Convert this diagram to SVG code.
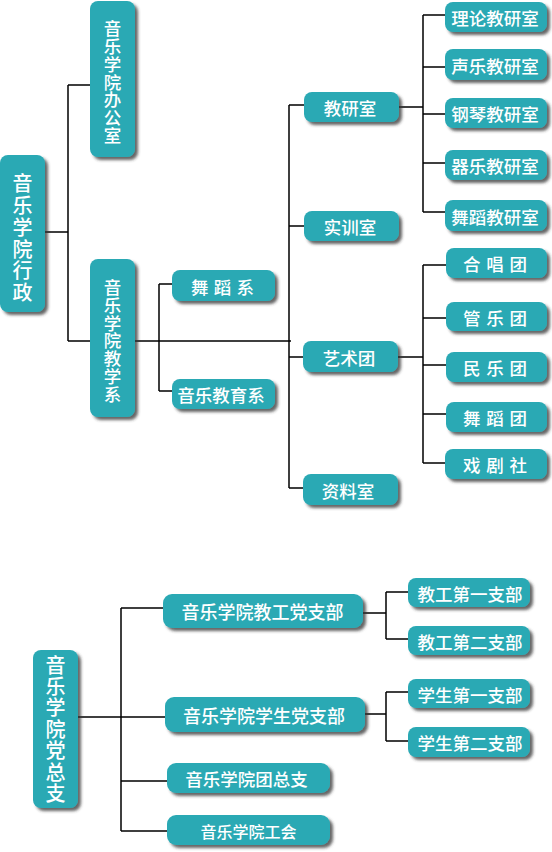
<svg xmlns="http://www.w3.org/2000/svg" width="552" height="852" viewBox="0 0 552 852">
<defs>
<filter id="sh" x="-20%" y="-20%" width="150%" height="160%">
<feDropShadow dx="3" dy="3" stdDeviation="1.4" flood-color="#333" flood-opacity="0.75"/>
</filter>
<style>
.b{fill:#2AA9B4;filter:url(#sh);}
.t{fill:#fff;font-family:"Noto Sans CJK SC","Noto Sans CJK TC",sans-serif;font-weight:500;font-size:17.5px;text-anchor:middle;dominant-baseline:central;}
.vt{writing-mode:vertical-rl;}
.c{fill:none;stroke:#000;stroke-width:1.5;}
</style>
</defs>
<rect width="552" height="852" fill="#fff"/>
<g id="connectors" class="c">
<path d="M45,232H68M68,85V341M68,85H90M68,341H90"/>
<path d="M135,341H291M159,284V391M159,284H172M159,391H172"/>
<path d="M289,105V488M289,105H304M289,226H304M289,357H303M289,488H303"/>
<path d="M399,107H423M423,15V212M423,15H445M423,67H445M423,114H445M423,163H445M423,212H445"/>
<path d="M398,357H423M423,265V463M423,265H446M423,318H446M423,365H446M423,414H446M423,463H445"/>
<path d="M78,717H121M121,608V831M121,608H163M121,717H165M121,781H167M121,831H167"/>
<path d="M363,613H386M386,592V639M386,592H408M386,639H408"/>
<path d="M365,714H386M386,692V741M386,692H408M386,741H408"/>
</g>
<g id="root"><rect class="b" x="0" y="155" width="45" height="157" rx="8"/>
<text class="t vt" x="22.5" y="239" style="font-size:20px;letter-spacing:1.7px">音乐学院行政</text></g>
<g id="office"><rect class="b" x="90" y="1" width="45" height="156" rx="8"/>
<text class="t vt" x="112.5" y="82" style="font-size:17.5px;letter-spacing:0.2px">音乐学院办公室</text></g>
<g id="teach"><rect class="b" x="90" y="259" width="45" height="158" rx="8"/>
<text class="t vt" x="112.5" y="341" style="font-size:17.5px;letter-spacing:0.4px">音乐学院教学系</text></g>
<g id="dance"><rect class="b" x="172" y="270" width="103" height="31" rx="8"/><text class="t" x="222.5" y="286" textLength="63" lengthAdjust="spacing">舞 蹈 系</text></g>
<g id="musicedu"><rect class="b" x="172" y="379" width="103" height="30" rx="8"/><text class="t" x="221" y="394.5">音乐教育系</text></g>
<g id="jiaoyan"><rect class="b" x="304" y="92" width="95" height="30" rx="8"/><text class="t" x="350" y="107">教研室</text></g>
<g id="shixun"><rect class="b" x="304" y="211" width="95" height="30" rx="8"/><text class="t" x="350" y="226">实训室</text></g>
<g id="yishu"><rect class="b" x="303" y="341" width="95" height="31" rx="8"/><text class="t" x="349" y="357">艺术团</text></g>
<g id="ziliao"><rect class="b" x="303" y="474" width="95" height="31" rx="8"/><text class="t" x="348" y="490">资料室</text></g>
<g id="lilun"><rect class="b" x="445" y="2" width="102" height="30" rx="8"/><text class="t" x="495" y="17.5">理论教研室</text></g>
<g id="shengyue"><rect class="b" x="445" y="49" width="102" height="31" rx="8"/><text class="t" x="495" y="65">声乐教研室</text></g>
<g id="gangqin"><rect class="b" x="445" y="98" width="102" height="30" rx="8"/><text class="t" x="495" y="113.5">钢琴教研室</text></g>
<g id="qiyue"><rect class="b" x="445" y="150" width="102" height="30" rx="8"/><text class="t" x="495" y="165.5">器乐教研室</text></g>
<g id="wudaojys"><rect class="b" x="445" y="200" width="102" height="31" rx="8"/><text class="t" x="495" y="216">舞蹈教研室</text></g>
<g id="hechang"><rect class="b" x="446" y="248" width="101" height="30" rx="8"/><text class="t" x="495" y="263.5" textLength="64" lengthAdjust="spacing">合 唱 团</text></g>
<g id="guanyue"><rect class="b" x="446" y="302" width="101" height="29" rx="8"/><text class="t" x="495" y="317" textLength="64" lengthAdjust="spacing">管 乐 团</text></g>
<g id="minyue"><rect class="b" x="446" y="352" width="101" height="30" rx="8"/><text class="t" x="495" y="367.5" textLength="64" lengthAdjust="spacing">民 乐 团</text></g>
<g id="wudaotuan"><rect class="b" x="446" y="402" width="101" height="30" rx="8"/><text class="t" x="495" y="417.5" textLength="64" lengthAdjust="spacing">舞 蹈 团</text></g>
<g id="xiju"><rect class="b" x="445" y="449" width="102" height="30" rx="8"/><text class="t" x="495" y="464.5" textLength="64" lengthAdjust="spacing">戏 剧 社</text></g>
<g id="dangzongzhi"><rect class="b" x="33" y="650" width="45" height="158" rx="8"/>
<text class="t vt" x="55.5" y="730" style="font-size:20px;letter-spacing:1.4px">音乐学院党总支</text></g>
<g id="jiaogong"><rect class="b" x="163" y="594" width="200" height="34" rx="9"/><text class="t" style="font-size:18px" x="262.5" y="611">音乐学院教工党支部</text></g>
<g id="xuesheng"><rect class="b" x="165" y="697" width="200" height="35" rx="9"/><text class="t" style="font-size:18px" x="264" y="715">音乐学院学生党支部</text></g>
<g id="tuanzongzhi"><rect class="b" x="167" y="763" width="163" height="30" rx="9"/><text class="t" x="246.5" y="778.5">音乐学院团总支</text></g>
<g id="gonghui"><rect class="b" x="167" y="815" width="163" height="30" rx="9"/><text class="t" style="font-size:16px" x="248.5" y="830.5">音乐学院工会</text></g>
<g id="jg1"><rect class="b" x="408" y="578" width="122" height="29" rx="8"/><text class="t" x="470" y="593">教工第一支部</text></g>
<g id="jg2"><rect class="b" x="408" y="626" width="122" height="29" rx="8"/><text class="t" x="470" y="641">教工第二支部</text></g>
<g id="xs1"><rect class="b" x="408" y="679" width="122" height="29" rx="8"/><text class="t" x="470" y="694">学生第一支部</text></g>
<g id="xs2"><rect class="b" x="408" y="727" width="122" height="30" rx="8"/><text class="t" x="470" y="742.5">学生第二支部</text></g>
</svg>
